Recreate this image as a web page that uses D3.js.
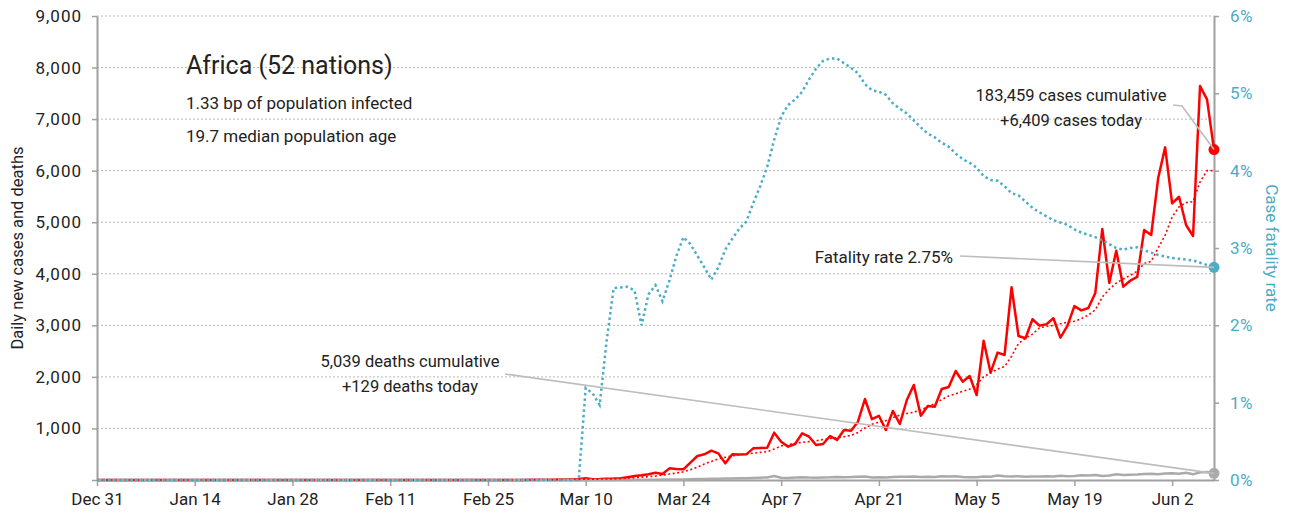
<!DOCTYPE html>
<html>
<head>
<meta charset="utf-8">
<script src="https://cdn.jsdelivr.net/npm/d3@7"></script>
<style>
    body { margin: 0; background: #fff; }
    svg text { font-family: "Roboto", sans-serif; fill: #222; }
</style>
</head>
<body>
<svg id="chart" width="1291" height="520"></svg>
<script>
// one value per day, starting Dec 31
const startDate = "2019-12-31";

const dailyCases = [
    0, 0, 0, 0, 0, 0, 0, 0, 0, 0, 0, 0, 0, 0, 0, 0, 0, 0, 0, 0,
    0, 0, 0, 0, 0, 0, 0, 0, 0, 0, 0, 0, 0, 0, 0, 0, 0, 0, 0, 0,
    0, 0, 0, 0, 0, 1, 0, 0, 0, 0, 0, 0, 0, 0, 0, 0, 0, 0, 0, 1,
    1, 2, 4, 3, 6, 5, 10, 8, 12, 20,
    35, 15, 18, 25, 28, 35, 55, 78, 90, 110,
    142, 116, 226, 215, 207, 336, 466, 498, 569, 517,
    323, 498, 495, 498, 614, 620, 627, 918, 743, 646,
    698, 905, 840, 679, 698, 853, 776, 970, 957, 1131,
    1571, 1180, 1245, 970, 1340, 1086, 1552, 1843, 1248, 1436,
    1422, 1765, 1804, 2115, 1907, 2018, 1649, 2703, 2082, 2470,
    2425, 3738, 2794, 2749, 3118, 2994, 3020, 3137, 2761, 2988,
    3372, 3290, 3337, 3628, 4869, 3822, 4448, 3750, 3866, 3938,
    4849, 4752, 5851, 6452, 5365, 5494, 4946, 4732, 7641, 7383,
    6409
];

const casesAvg7 = [
    0, 0, 0, 0, 0, 0, 0, 0, 0, 0, 0, 0, 0, 0, 0, 0, 0, 0, 0, 0,
    0, 0, 0, 0, 0, 0, 0, 0, 0, 0, 0, 0, 0, 0, 0, 0, 0, 0, 0, 0,
    0, 0, 0, 0, 0, 0, 0, 0, 0, 0, 0, 0, 0, 0, 0, 0, 0, 0, 0, 0,
    0, 1, 1, 2, 2, 3, 5, 6, 8, 12,
    15, 16, 18, 20, 22, 25, 35, 45, 55, 65,
    75, 95, 115, 135, 160, 200, 250, 310, 360, 410,
    440, 470, 490, 505, 520, 535, 550, 600, 660, 690,
    710, 730, 745, 760, 785, 805, 820, 840, 865, 920,
    1010, 1080, 1120, 1150, 1210, 1260, 1290, 1315, 1360, 1420,
    1480, 1560, 1630, 1670, 1720, 1760, 1850, 2000, 2080, 2150,
    2200, 2400, 2650, 2750, 2830, 2950, 2980, 3000, 3030, 3060,
    3080, 3130, 3200, 3300, 3550, 3700, 3820, 3900, 3970, 4050,
    4200, 4240, 4500, 4750, 5100, 5300, 5380, 5400, 5780, 6000,
    6000
];

const dailyDeaths = [
    0, 0, 0, 0, 0, 0, 0, 0, 0, 0, 0, 0, 0, 0, 0, 0, 0, 0, 0, 0,
    0, 0, 0, 0, 0, 0, 0, 0, 0, 0, 0, 0, 0, 0, 0, 0, 0, 0, 0, 0,
    0, 0, 0, 0, 0, 0, 0, 0, 0, 0, 0, 0, 0, 0, 0, 0, 0, 0, 0, 0,
    0, 0, 0, 0, 0, 0, 0, 0, 1, 0,
    1, 1, 2, 1, 2, 3, 2, 4, 3, 5,
    6, 8, 10, 9, 12, 15, 18, 20, 22, 25,
    30, 28, 35, 33, 40, 45, 50, 75, 45, 40,
    50, 55, 48, 45, 50, 52, 60, 55, 58, 65,
    70, 50, 55, 48, 60, 65, 62, 70, 58, 65,
    60, 72, 68, 75, 60, 55, 52, 70, 65, 85,
    75, 70, 72, 65, 70, 68, 75, 70, 80, 72,
    78, 90, 85, 95, 80, 88, 110, 95, 100, 105,
    115, 120, 110, 125, 130, 120, 140, 110, 150, 155,
    129
];

// case fatality rate, percent
const fatalityRate = [
    0, 0, 0, 0, 0, 0, 0, 0, 0, 0, 0, 0, 0, 0, 0, 0, 0, 0, 0, 0,
    0, 0, 0, 0, 0, 0, 0, 0, 0, 0, 0, 0, 0, 0, 0, 0, 0, 0, 0, 0,
    0, 0, 0, 0, 0, 0, 0, 0, 0, 0, 0, 0, 0, 0, 0, 0, 0, 0, 0, 0,
    0, 0, 0, 0, 0, 0, 0, 0, 0, 0,
    1.19, 1.12, 0.97, 1.8, 2.48, 2.49, 2.5, 2.45, 2.0, 2.4,
    2.52, 2.31, 2.58, 2.9, 3.14, 3.05, 2.9, 2.75, 2.59, 2.75,
    2.98, 3.12, 3.25, 3.34, 3.58, 3.8, 4.05, 4.4, 4.7, 4.85,
    4.92, 5.02, 5.18, 5.32, 5.42, 5.45, 5.45, 5.39, 5.33, 5.26,
    5.12, 5.04, 5.02, 4.98, 4.87, 4.8, 4.74, 4.65, 4.56, 4.48,
    4.43, 4.36, 4.31, 4.22, 4.15, 4.1, 4.04, 3.93, 3.88, 3.87,
    3.8, 3.71, 3.68, 3.6, 3.52, 3.46, 3.41, 3.36, 3.33, 3.3,
    3.24, 3.2, 3.17, 3.14, 3.1, 3.05, 3.0, 2.98, 3.0, 3.01,
    2.97, 2.94, 2.91, 2.89, 2.87, 2.86, 2.85, 2.84, 2.81, 2.78,
    2.75
];

const xTickDates = ["2019-12-31", "2020-01-14", "2020-01-28", "2020-02-11", "2020-02-25", "2020-03-10",
    "2020-03-24", "2020-04-07", "2020-04-21", "2020-05-05", "2020-05-19", "2020-06-02"];
const leftTicks = [0, 1000, 2000, 3000, 4000, 5000, 6000, 7000, 8000, 9000];
const rightTicks = [0, 1, 2, 3, 4, 5, 6];

const titleText = "Africa (52 nations)";
const subtitleLines = ["1.33 bp of population infected", "19.7 median population age"];
const casesNote = ["183,459 cases cumulative", "+6,409 cases today"];
const deathsNote = ["5,039 deaths cumulative", "+129 deaths today"];
const rateNote = "Fatality rate 2.75%";

const red = "#ff0000", teal = "#4bacc6", grey = "#aaaaaa", axisGrey = "#a0a0a0";

const svg = d3.select("#chart");
const width = 1291, height = 520;
const margin = { top: 16, right: 77, bottom: 40, left: 97 };
const innerW = width - margin.left - margin.right;
const innerH = height - margin.top - margin.bottom;

const parseDate = d3.timeParse("%Y-%m-%d");
const day0 = parseDate(startDate);
const lastIdx = dailyCases.length - 1;
const dateAt = i => d3.timeDay.offset(day0, i);

const x = d3.scaleTime().domain([day0, dateAt(lastIdx)]).range([0, innerW]);
const y = d3.scaleLinear().domain([0, 9000]).range([innerH, 0]);
const yRate = d3.scaleLinear().domain([0, 6]).range([innerH, 0]);

const g = svg.append("g").attr("transform", `translate(${margin.left},${margin.top})`);

// gridlines
g.append("g")
    .selectAll("line")
    .data(leftTicks.filter(d => d > 0))
    .join("line")
    .attr("x1", 0)
    .attr("x2", innerW)
    .attr("y1", d => y(d))
    .attr("y2", d => y(d))
    .attr("stroke", "#b8b8b8")
    .attr("stroke-width", 1)
    .attr("stroke-dasharray", "2,2");

function styleAxis(sel, labelColor, spacing) {
    sel.select(".domain").attr("stroke", axisGrey).attr("stroke-width", 2);
    sel.selectAll(".tick line").attr("stroke", axisGrey).attr("stroke-width", 1.5);
    sel.selectAll(".tick text")
        .style("font-size", "17px")
        .style("letter-spacing", spacing)
        .style("fill", labelColor);
}

const fmt = d3.format(",");
g.append("g")
    .call(d3.axisLeft(y).tickValues(leftTicks).tickSize(5).tickSizeOuter(0).tickPadding(10)
        .tickFormat(d => (d === 0 ? "" : fmt(d))))
    .call(sel => styleAxis(sel, "#222", "1px"));

g.append("g")
    .attr("transform", `translate(${innerW},0)`)
    .call(d3.axisRight(yRate).tickValues(rightTicks).tickSize(5).tickSizeOuter(0).tickPadding(11)
        .tickFormat(d => d + "%"))
    .call(sel => styleAxis(sel, teal, "0.5px"));

g.append("g")
    .attr("transform", `translate(0,${innerH})`)
    .call(d3.axisBottom(x).tickValues(xTickDates.map(parseDate)).tickSize(6).tickSizeOuter(0).tickPadding(7)
        .tickFormat(d3.timeFormat("%b %-d")))
    .call(sel => styleAxis(sel, "#222", "0px"));

// axis titles
svg.append("text")
    .attr("transform", `translate(23,${margin.top + innerH / 2}) rotate(-90)`)
    .attr("text-anchor", "middle")
    .style("font-size", "16.5px")
    .text("Daily new cases and deaths");

svg.append("text")
    .attr("transform", `translate(1266,${margin.top + innerH / 2}) rotate(90)`)
    .attr("text-anchor", "middle")
    .style("font-size", "17px")
    .style("fill", teal)
    .text("Case fatality rate");

// series
const idx = d3.range(dailyCases.length);
const lineCount = arr => d3.line().x(i => x(dateAt(i))).y(i => y(arr[i]))(idx);
const lineRate = d3.line().x(i => x(dateAt(i))).y(i => yRate(fatalityRate[i]));

g.append("path")
    .attr("d", lineCount(dailyCases))
    .attr("fill", "none")
    .attr("stroke", red)
    .attr("stroke-width", 2.5)
    .attr("stroke-linejoin", "round");

g.append("path")
    .attr("d", lineCount(dailyDeaths))
    .attr("fill", "none")
    .attr("stroke", grey)
    .attr("stroke-width", 2.5);

g.append("path")
    .attr("d", lineCount(casesAvg7))
    .attr("fill", "none")
    .attr("stroke", red)
    .attr("stroke-width", 1.6)
    .attr("stroke-dasharray", "2,2.5");

g.append("path")
    .attr("d", lineRate(idx))
    .attr("fill", "none")
    .attr("stroke", teal)
    .attr("stroke-width", 2.5)
    .attr("stroke-dasharray", "2.5,3");

// end points
const lastX = x(dateAt(lastIdx));
const endCases = [lastX, y(dailyCases[lastIdx])];
const endDeaths = [lastX, y(dailyDeaths[lastIdx])];
const endRate = [lastX, yRate(fatalityRate[lastIdx])];

// leader lines (in outer svg coords)
const toOuter = p => [p[0] + margin.left, p[1] + margin.top];
const leaders = [
    [[1173, 105], [1182, 106], toOuter(endCases)],
    [[960, 256], toOuter(endRate)],
    [[505, 374], toOuter(endDeaths)]
];
svg.append("g")
    .selectAll("path")
    .data(leaders)
    .join("path")
    .attr("d", d => d3.line()(d))
    .attr("fill", "none")
    .attr("stroke", "#bdbdbd")
    .attr("stroke-width", 1.6);

g.append("circle").attr("cx", endCases[0]).attr("cy", endCases[1]).attr("r", 5.5).attr("fill", red);
g.append("circle").attr("cx", endRate[0]).attr("cy", endRate[1]).attr("r", 5.5).attr("fill", teal);
g.append("circle").attr("cx", endDeaths[0]).attr("cy", endDeaths[1]).attr("r", 5.5).attr("fill", grey);

// title block
svg.append("text")
    .attr("x", 186)
    .attr("y", 74)
    .style("font-size", "25px")
    .text(titleText);

svg.append("g")
    .selectAll("text")
    .data(subtitleLines)
    .join("text")
    .attr("x", 186)
    .attr("y", (d, i) => 109 + i * 33)
    .style("font-size", "17px")
    .text(d => d);

// notes
function note(lines, cx, y0) {
    svg.append("g")
        .selectAll("text")
        .data(lines)
        .join("text")
        .attr("x", cx)
        .attr("y", (d, i) => y0 + i * 25)
        .attr("text-anchor", "middle")
        .style("font-size", "16.5px")
        .text(d => d);
}
note(casesNote, 1071, 101);
note(deathsNote, 410, 367);

svg.append("text")
    .attr("x", 953)
    .attr("y", 263)
    .attr("text-anchor", "end")
    .style("font-size", "17px")
    .text(rateNote);
</script>
</body>
</html>
